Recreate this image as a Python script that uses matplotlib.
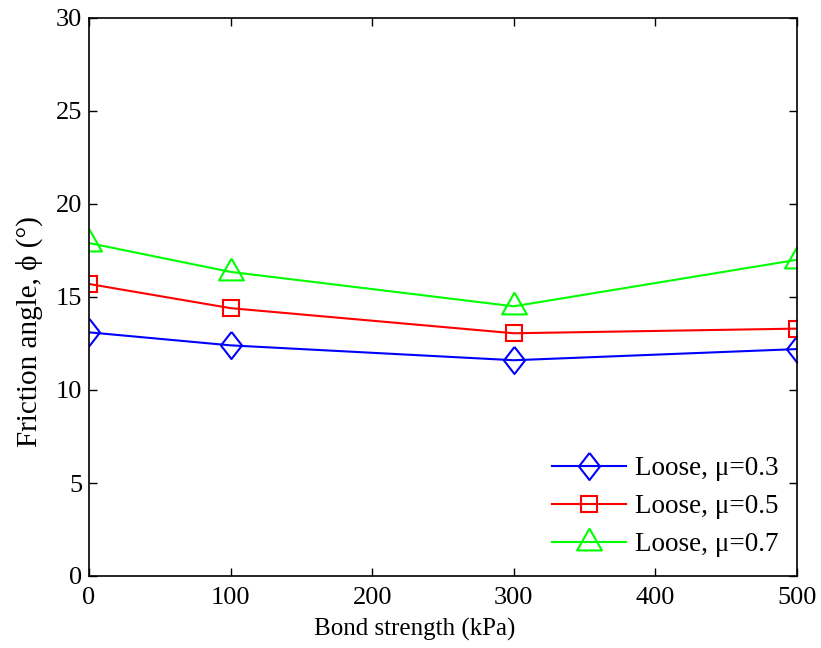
import matplotlib
matplotlib.use("Agg")
import matplotlib.pyplot as plt

bond = [0, 100, 300, 500]
phi_mu03 = [13.1, 12.4, 11.6, 12.2]
phi_mu05 = [15.7, 14.4, 13.05, 13.3]
phi_mu07 = [17.9, 16.35, 14.5, 17.0]
labels = ["Loose, μ=0.3", "Loose, μ=0.5", "Loose, μ=0.7"]
xticks = [0, 100, 200, 300, 400, 500]
yticks = [0, 5, 10, 15, 20, 25, 30]

plt.rcParams['font.family'] = ['Liberation Serif', 'DejaVu Serif']

diamond = [(0, 13.5), (10.5, 0), (0, -13.5), (-10.5, 0), (0, 13.5)]
triangle = [(0, 14), (-12.5, -8), (12.5, -8), (0, 14)]

fig = plt.figure(figsize=(8.21, 6.48), dpi=100)
ax = fig.add_axes([89 / 821, (648 - 576) / 648, 708 / 821, 558 / 648])

lw = 1.5
ax.plot(bond, phi_mu03, color='#0000ff', lw=lw, marker=diamond, ms=19.5,
        mfc='none', mec='#0000ff', mew=lw, label=labels[0])
ax.plot(bond, phi_mu05, color='#ff0000', lw=lw, marker='s', ms=12,
        mfc='none', mec='#ff0000', mew=lw, label=labels[1])
ax.plot(bond, phi_mu07, color='#00ff00', lw=lw, marker=triangle, ms=20,
        mfc='none', mec='#00ff00', mew=lw, label=labels[2])

ax.set_xlim(0, 500)
ax.set_ylim(0, 30)
ax.set_xticks(xticks)
ax.set_yticks(yticks)
ax.tick_params(direction='in', length=5.5, width=1, top=True, right=True,
               labelsize=19)
ax.tick_params(axis='x', pad=8)
ax.tick_params(axis='y', pad=5)
for s in ax.spines.values():
    s.set_linewidth(1.2)

ax.set_xlabel("Bond strength (kPa)", fontsize=18)
ax.xaxis.set_label_coords((414.5 - 89) / 708, (576 - 618) / 558)
ax.set_ylabel("Friction angle, ϕ (°)", fontsize=21)
ax.yaxis.set_label_coords((43 - 89) / 708, (576 - 332) / 558)

leg = ax.legend(loc='lower right', frameon=False, fontsize=19.5,
                handlelength=2.75, handletextpad=0.3, labelspacing=0.48,
                borderaxespad=0.4, borderpad=0.3)

fig.savefig("out.png", dpi=100)
